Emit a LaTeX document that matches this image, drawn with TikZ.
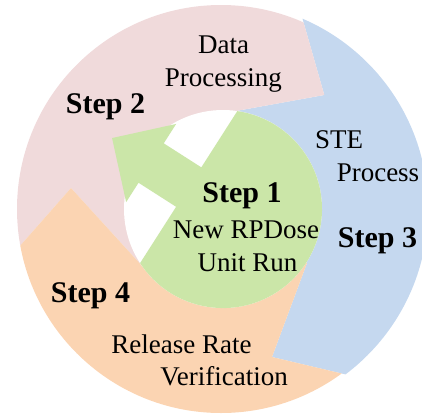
\documentclass[tikz,border=0pt]{standalone}
\usepackage{fontspec}
\setmainfont{Liberation Serif}
\definecolor{cpink}{RGB}{240,218,219}
\definecolor{cblue}{RGB}{197,216,239}
\definecolor{cgreen}{RGB}{203,230,168}
\definecolor{corange}{RGB}{251,212,178}
\begin{document}
\begin{tikzpicture}[x=1pt,y=-1pt,
  lbl/.style={anchor=base,inner sep=0pt,font=\fontsize{27}{32}\selectfont},
  stp/.style={anchor=base,inner sep=0pt,font=\fontsize{30}{36}\selectfont\bfseries}]
\useasboundingbox (0,0) rectangle (422,415);
\clip (0,0) rectangle (422,415);
% Step 3 (blue)
\begin{scope}
\clip (221,209) circle[radius=207];
\fill[cblue] (223,209) -- (236,111) -- (324.3,95) -- (292,-18) -- (460,-18) -- (460,401.5) -- (272,357) -- (307,263) -- cycle;
\end{scope}
% Step 2 (pink) and Step 4 (orange)
\begin{scope}
\clip (221,209) circle[radius=204];
\fill[cpink] (223,209) -- (236,111) -- (324.3,95) -- (292,-18) -- (-40,-18) -- (-40,314) -- (71,188) -- (143,267) -- cycle;
\fill[corange] (223,209) -- (143,267) -- (71,188) -- (-40,314) -- (-40,460) -- (460,460) -- (460,401.5) -- (272,357) -- (307,263) -- cycle;
\end{scope}
% inner hole
\fill[white] (223,209) circle[radius=99];
% Step 1 (green)
\begin{scope}[shift={(223,209)}, rotate=147.4]
\fill[cgreen] (40.7,-90.25) arc[start angle=-65.7, end angle=-294.3, radius=99]
  -- (40.7,23.4) -- (85.3,23.4) -- (85.3,46.4) -- (131.7,0)
  -- (85.3,-46.4) -- (85.3,-23.4) -- (40.7,-23.4) -- cycle;
\end{scope}
% labels
\node[lbl] (data) at (223.5,53) {Data};
\node[lbl] (proc) at (223.3,86) {Processing};
\node[stp] (s2) at (105.5,113) {Step 2};
\node[lbl] (ste) at (339,148) {STE};
\node[lbl] (process) at (378,181) {Process};
\node[stp] (s3) at (377.5,247) {Step 3};
\node[stp] (s1) at (242,202) {Step 1};
\node[lbl] (rp) at (246,238) {New RPDose};
\node[lbl] (run) at (247.5,271) {Unit Run};
\node[stp] (s4) at (90.5,302) {Step 4};
\node[lbl] (rel) at (181.5,353) {Release Rate};
\node[lbl] (ver) at (224,385) {Verification};
\end{tikzpicture}
\end{document}
